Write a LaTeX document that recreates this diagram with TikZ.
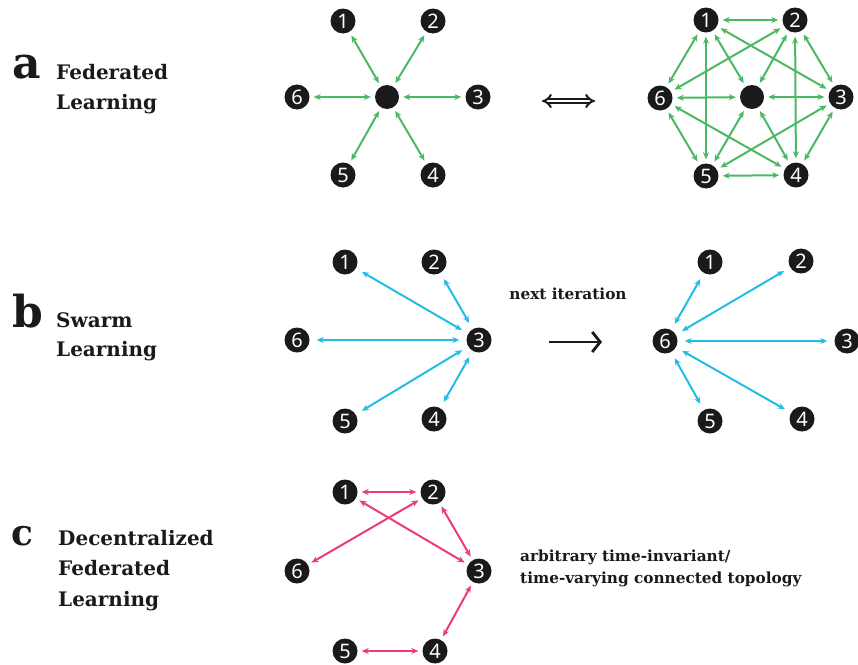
\documentclass[tikz,border=0pt]{standalone}
\usepackage{fontspec}
\setmainfont{DejaVu Serif}
\newfontfamily\numfont{Noto Sans}
\usetikzlibrary{arrows.meta}
\definecolor{nblack}{HTML}{1A1A1A}
\definecolor{fgreen}{HTML}{4BB864}
\definecolor{scyan}{HTML}{22BDE6}
\definecolor{dpink}{HTML}{EC3B78}
\tikzset{
  num/.style={circle, fill=nblack, minimum size=25pt, inner sep=0pt, text=white, font=\numfont\fontsize{20}{20}\selectfont},
  hub/.style={circle, fill=nblack, minimum size=24pt, inner sep=0pt},
  link/.style={line width=2pt, {Stealth[length=7pt,width=6pt]}-{Stealth[length=7pt,width=6pt]}, shorten <=4pt, shorten >=4pt},
  glink/.style={link, draw=fgreen},
  clink/.style={link, draw=scyan, shorten <=7pt, shorten >=7pt},
  plink/.style={link, draw=dpink},
  biglet/.style={anchor=base west, inner sep=0pt, font=\bfseries\fontsize{44}{44}\selectfont, text=nblack},
  lab/.style={anchor=base west, inner sep=0pt, font=\bfseries\fontsize{20}{20}\selectfont, text=nblack},
  small/.style={inner sep=0pt, font=\bfseries\fontsize{15.3}{15.3}\selectfont, text=nblack}
}
\begin{document}
\begin{tikzpicture}[x=1pt,y=-1pt]
\useasboundingbox (0,0) rectangle (858,664);
% ---------- labels
\node[biglet] (la) at (12,78) {a};
\node[lab] (la1) at (56,79) {Federated};
\node[lab] (la2) at (56,109) {Learning};
\node[biglet] (lb) at (12,327) {b};
\node[lab] (lb1) at (56,327) {Swarm};
\node[lab] (lb2) at (56,356) {Learning};
\node[biglet, font=\bfseries\fontsize{36}{36}\selectfont] (lc) at (11,545) {c};
\node[lab] (lc1) at (58,545) {Decentralized};
\node[lab] (lc2) at (58,575) {Federated};
\node[lab] (lc3) at (58,606) {Learning};
% ---------- panel a left
\node[hub] (ac) at (387,97) {};
\node[num] (a1) at (343,21) {1};
\node[num] (a2) at (433,21) {2};
\node[num] (a3) at (478,97) {3};
\node[num] (a4) at (433,175) {4};
\node[num] (a5) at (343,175) {5};
\node[num] (a6) at (297,97) {6};
\foreach \i in {1,...,6} \draw[glink] (a\i) -- (ac);
% double arrow
\coordinate (dl) at (542,101);
\coordinate (dr) at (595,101);
\draw[line width=2pt, double=white, double distance=2.6pt, draw=nblack, {Implies[length=9pt]}-{Implies[length=9pt]}] (dl) -- (dr);
% ---------- panel a right
\node[hub] (AC) at (752,97) {};
\node[num] (A1) at (706,20) {1};
\node[num] (A2) at (795,20) {2};
\node[num] (A3) at (841,97) {3};
\node[num] (A4) at (796,175) {4};
\node[num] (A5) at (706,176) {5};
\node[num] (A6) at (660,98) {6};
\foreach \i in {1,...,6} \draw[glink] (A\i) -- (AC);
\foreach \p/\q in {1/2,2/3,3/4,4/5,5/6,6/1,1/3,2/4,3/5,4/6,5/1,6/2}
  \draw[glink] (A\p) -- (A\q);
% ---------- panel b left
\node[num] (b1) at (345,262) {1};
\node[num] (b2) at (434,262) {2};
\node[num] (b3) at (479,340) {3};
\node[num] (b4) at (434,419) {4};
\node[num] (b5) at (345,421) {5};
\node[num] (b6) at (297,340) {6};
\foreach \i in {1,2,4,5,6} \draw[clink] (b3) -- (b\i);
% next iteration
\node[small] (nxt) at (568,294) {next iteration};
\coordinate (nl) at (549,342);
\coordinate (nr) at (602,342);
\draw[line width=2.8pt, draw=nblack, -{Straight Barb[length=8pt,width=20pt]}] (nl) -- (nr);
% ---------- panel b right
\node[num] (B1) at (710,262) {1};
\node[num] (B2) at (801,261) {2};
\node[num] (B3) at (847,341) {3};
\node[num] (B4) at (802,419) {4};
\node[num] (B5) at (710,421) {5};
\node[num] (B6) at (665,341) {6};
\foreach \i in {1,...,5} \draw[clink] (B6) -- (B\i);
% ---------- panel c
\node[num] (c1) at (345,492) {1};
\node[num] (c2) at (433,492) {2};
\node[num] (c3) at (479,571) {3};
\node[num] (c4) at (435,651) {4};
\node[num] (c5) at (345,651) {5};
\node[num] (c6) at (297,571) {6};
\foreach \p/\q in {1/2,1/3,2/6,2/3,3/4,5/4} \draw[plink] (c\p) -- (c\q);
\node[small, anchor=base west] (t1) at (520,561) {arbitrary time-invariant/};
\node[small, anchor=base west] (t2) at (520,583) {time-varying connected topology};
\end{tikzpicture}
\end{document}
